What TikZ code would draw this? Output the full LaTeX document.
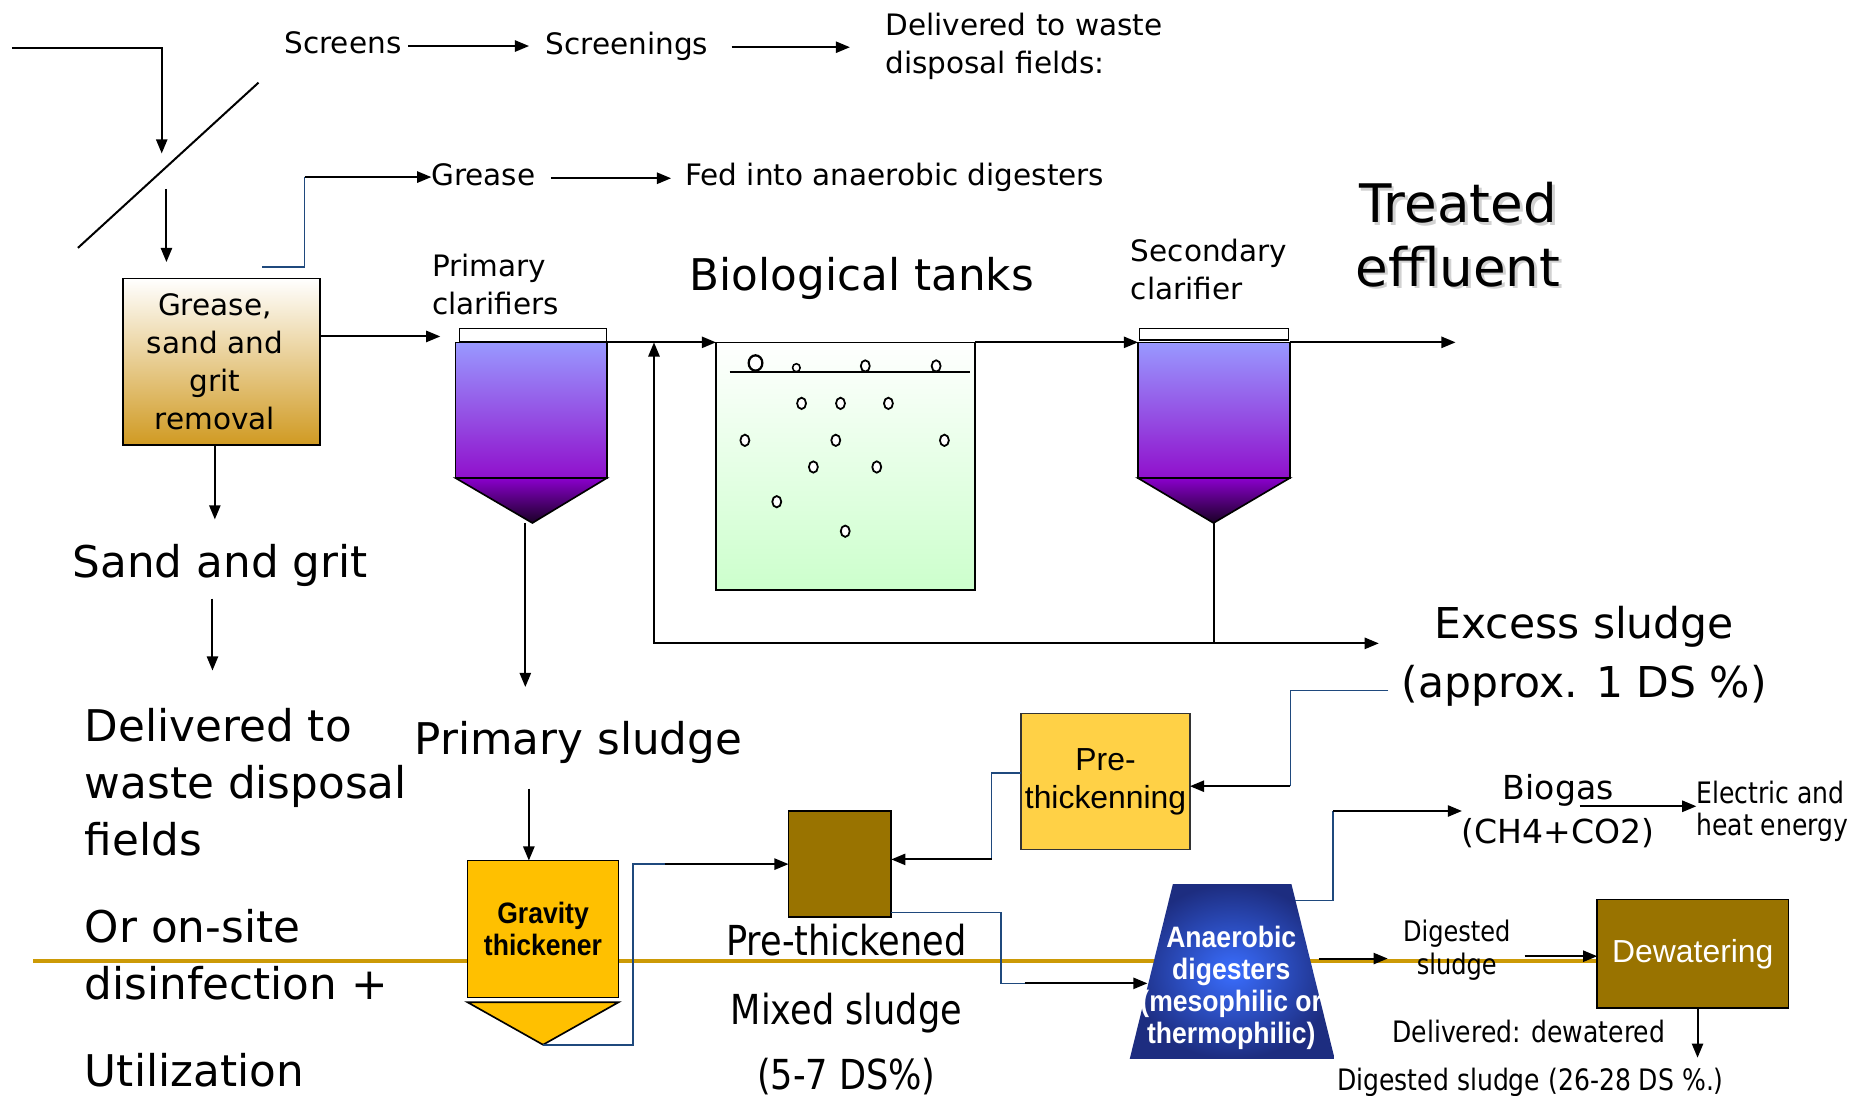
\documentclass[tikz,border=0pt]{standalone}
\usepackage{fontspec}
\usetikzlibrary{arrows.meta}
\newfontfamily\comicfont{DejaVu Sans}
\newfontfamily\comicnarrow{DejaVu Sans}[FakeStretch=0.85]
\newfontfamily\arialfont{Liberation Sans}
\newfontfamily\arialnarrow{Liberation Sans}[FakeStretch=0.9]
\definecolor{pipeblue}{HTML}{1F497D}
\definecolor{goldline}{HTML}{CC9A06}
\definecolor{gritgold}{HTML}{D09A22}
\definecolor{clarTop}{HTML}{9999FF}
\definecolor{clarBot}{HTML}{9010CC}
\definecolor{funnelTop}{HTML}{8A00CC}
\definecolor{funnelBot}{HTML}{1A0026}
\definecolor{bioGreen}{HTML}{CCFFCC}
\definecolor{amber}{HTML}{FFC000}
\definecolor{preyellow}{HTML}{FFD146}
\definecolor{sludgebrown}{HTML}{997300}
\definecolor{digInner}{HTML}{3A6EFF}
\definecolor{digOuter}{HTML}{1D2D80}
\begin{document}
\begin{tikzpicture}[x=1pt, y=-1pt,
  every node/.style={inner sep=0pt, outer sep=0pt},
  flowarrow/.style={line width=1.7pt, -{Triangle[length=12pt,width=9.5pt]}},
  plainline/.style={line width=1.7pt},
  pipeline/.style={draw=pipeblue, line width=1.3pt},
  tankbox/.style={draw, line width=1.4pt},
  smalltxt/.style={font=\comicfont\fontsize{25}{32}\selectfont},
  bigtxt/.style={font=\comicfont\fontsize{37}{48}\selectfont},
  flattxt/.style={text height=18pt, text depth=6pt},
  bigflattxt/.style={text height=28pt, text depth=9pt},
  slimtxt/.style={font=\comicnarrow\fontsize{25}{27}\selectfont},
  slimbigtxt/.style={font=\comicnarrow\fontsize{35}{40}\selectfont, text height=26pt, text depth=9pt},
  boldnarrow/.style={font=\arialnarrow\bfseries\fontsize{25}{27}\selectfont, align=center}]
\fill[white] (0,0) rectangle (1568,928);
\useasboundingbox (0,0) rectangle (1568,928);

% gold line behind everything
\draw[goldline, line width=3.5pt] (28,814) -- (1353,814);

% screens
\coordinate (inflow) at (10,41);
\coordinate (scrin) at (137,130);
\coordinate (scrout) at (141,160);
\coordinate (gritin) at (141,222);
\draw[plainline] (66,210) -- (219,70);
\draw[flowarrow] (inflow) -| (scrin);
\draw[flowarrow] (scrout) -- (gritin);

\node[smalltxt, flattxt] (screens) at (290.5,39) {Screens};
\node[smalltxt, flattxt] (screenings) at (531,40) {Screenings};
\node[smalltxt, align=left, anchor=west] (deliv) at (750,39.5) {Delivered to waste\\disposal fields:};
\draw[flowarrow, shorten <=6pt, shorten >=14pt] (screens.east) -- (screens.east -| screenings.west);
\draw[flowarrow, shorten <=20pt, shorten >=30pt] (screenings.east) -- (screenings.east -| deliv.west);

% grease, sand and grit removal
\node[tankbox, top color=white, bottom color=gritgold, minimum width=167pt, minimum height=141pt] (grit) at (187.5,306.5) {};
\node[smalltxt, align=center] (gritlabel) at (182,306.5) {Grease,\\sand and\\grit\\removal};

\coordinate (gsout) at (222,226);
\coordinate (gsjoin) at (258,150);
\node[smalltxt, flattxt] (grease) at (409.5,151) {Grease};
\node[smalltxt, flattxt] (fed) at (758,151) {Fed into anaerobic digesters};
\draw[pipeline] (gsout) -| (gsjoin);
\draw[flowarrow] (gsjoin) -- (gsjoin -| grease.west);
\draw[flowarrow, shorten <=13pt, shorten >=12pt] (grease.east) -- (grease.east -| fed.west);

% primary clarifier
\node[draw, line width=1pt, fill=white, minimum width=125pt, minimum height=11pt] (pctop) at (451.5,283.5) {};
\node[tankbox, top color=clarTop, bottom color=clarBot, minimum width=128pt, minimum height=115pt] (pcbody) at (450,347.5) {};
\shadedraw[top color=funnelTop, bottom color=funnelBot, line width=1.4pt] (pcbody.south west) -- (pcbody.south east) -- (451,443) coordinate (pctip) -- cycle;
\node[smalltxt, align=left, anchor=west] (pclabel) at (366,241) {Primary\\clarifiers};
\coordinate (pcin) at (373,285);
\draw[flowarrow] (grit.east |- pcin) -- (pcin);

% biological tank
\node[tankbox, top color=white, bottom color=bioGreen, minimum width=219.5pt, minimum height=210pt] (bio) at (716.25,395) {};
\draw[plainline] (618,315) -- (822,315);
\foreach \bx/\by in {733/310, 793/310, 679/341.7, 712/341.7, 752.6/341.7, 631/373, 708/373, 800/373, 689/395.6, 742.7/395.6, 658/425, 716/450}
  \draw[fill=white, line width=1.5pt] (\bx,\by) ellipse (3.8pt and 4.8pt);
\draw[fill=white, line width=1.9pt] (640,307.5) ellipse (5.8pt and 6.5pt);
\draw[fill=white, line width=1.3pt] (674.6,311.5) ellipse (3.2pt and 3.4pt);
\node[bigtxt, bigflattxt] (biolabel) at (730,237) {Biological tanks};
\draw[flowarrow] (pcbody.north east) -- (bio.north west);

% secondary clarifier
\node[draw, line width=1pt, fill=white, minimum width=126pt, minimum height=10pt] (sctop) at (1028.4,283) {};
\node[tankbox, top color=clarTop, bottom color=clarBot, minimum width=128.5pt, minimum height=115pt] (scbody) at (1028.25,347.5) {};
\shadedraw[top color=funnelTop, bottom color=funnelBot, line width=1.4pt] (scbody.south west) -- (scbody.south east) -- (1028,443) coordinate (sctip) -- cycle;
\node[smalltxt, align=left, anchor=west] (sclabel) at (958,228) {Secondary\\clarifier};
\draw[flowarrow] (bio.north east) -- (scbody.north west);
\coordinate (effout) at (1233,290);
\draw[flowarrow] (scbody.north east) -- (effout);

\node[font=\comicfont\fontsize{45}{54}\selectfont, align=center, text=black!18] (effshadow) at (1237.5,201) {Treated\\effluent};
\node[font=\comicfont\fontsize{45}{54}\selectfont, align=center] (effluent) at (1235,198.5) {Treated\\effluent};

% return and excess sludge
\coordinate (retjoin) at (1028,545);
\coordinate (retcorner) at (554,545);
\coordinate (exin) at (1168,545);
\draw[plainline] (sctip) -- (retjoin);
\draw[flowarrow] (retjoin) -- (exin);
\draw[flowarrow] (retjoin) -- (retcorner) -- (retcorner |- bio.north west);
\node[font=\comicfont\fontsize{36}{50}\selectfont, align=center] (excess) at (1342,556) {Excess sludge\\(approx. 1 DS \%)};

% primary sludge
\coordinate (psin) at (445,582);
\draw[flowarrow] (pctip -| psin) -- (psin);
\node[bigtxt, bigflattxt] (psludge) at (490,630) {Primary sludge};

% sand and grit
\coordinate (sandin) at (182,440);
\draw[flowarrow] (grit.south -| sandin) -- (sandin);
\node[bigtxt, bigflattxt] (sand) at (186.5,480) {Sand and grit};
\coordinate (sandout) at (180,507);
\coordinate (delin) at (180,568);
\draw[flowarrow] (sandout) -- (delin);
\node[bigtxt, align=left, anchor=west] (delfields) at (72,662.5) {Delivered to\\waste disposal\\fields};
\node[bigtxt, align=left, anchor=west] (onsite) at (72,808.5) {Or on-site\\disinfection +};
\node[bigtxt, bigflattxt, anchor=west] (utiliz) at (72,911) {Utilization};

% gravity thickener
\coordinate (psout) at (448,668);
\node[draw, line width=1.4pt, fill=amber, minimum width=128pt, minimum height=116pt, boldnarrow] (grav) at (460,787) {Gravity\\thickener};
\draw[flowarrow] (psout) -- (psout |- grav.north);
\draw[fill=amber, line width=1.4pt] (396,849) -- (524,849) -- (460,885) coordinate (gravtip) -- cycle;

% pre-thickened tank
\node[draw, line width=1.4pt, fill=sludgebrown, minimum width=87pt, minimum height=90pt] (prebox) at (711.5,732) {};
\coordinate (gjoin) at (536,732);
\coordinate (gblack) at (563,732);
\draw[pipeline] (gravtip) -| (gjoin) -- (gblack);
\draw[flowarrow] (gblack) -- (prebox.west);
\node[slimbigtxt] (prethickened) at (717,801) {Pre-thickened};
\node[slimbigtxt] (mixed) at (717,859) {Mixed sludge};
\node[slimbigtxt] (ds57) at (717,914) {(5-7 DS\%)};

% pre-thickenning
\node[draw=black!80, line width=1.4pt, fill=preyellow, minimum width=143pt, minimum height=115pt, font=\arialfont\fontsize{27}{32}\selectfont, align=center] (prethick) at (936.5,662) {Pre-\\thickenning};
\coordinate (ptjoin) at (840,728);
\draw[pipeline] (prethick.west |- 0,655) -| (ptjoin);
\draw[flowarrow] (ptjoin) -- (ptjoin -| prebox.east);
\coordinate (exout) at (1176,585);
\coordinate (exjoin) at (1093,666);
\draw[pipeline] (exout) -| (exjoin);
\draw[flowarrow] (exjoin) -- (exjoin -| prethick.east);

% anaerobic digesters
\shade[inner color=digInner, outer color=digOuter] (957,897) -- (993.5,749) -- (1094,749) -- (1130.6,897) -- cycle;
\coordinate (digin) at (972,833);
\coordinate (digout) at (1117,812);
\coordinate (gasout) at (1097,763);
\node[boldnarrow, text=white] (digester) at (1043,837) {Anaerobic\\digesters\\(mesophilic or\\thermophilic)};
\coordinate (mixjoin) at (848,833);
\coordinate (mixblack) at (868,833);
\draw[pipeline] ([yshift=4pt]prebox.south east) -| (mixjoin) -- (mixblack);
\draw[flowarrow] (mixblack) -- (digin);

% biogas
\coordinate (gasjoin) at (1129,687);
\draw[pipeline] (gasout) -| (gasjoin);
\node[font=\comicfont\fontsize{28}{37}\selectfont, align=center] (biogas) at (1320,687) {Biogas\\(CH4+CO2)};
\draw[flowarrow] (gasjoin) -- (gasjoin -| biogas.west);
\node[slimtxt, align=left, anchor=west] (elec) at (1437,687) {Electric and\\heat energy};
\coordinate (gasarr) at (1338,683);
\draw[flowarrow] (gasarr) -- (gasarr -| elec.west);

% digested sludge and dewatering
\node[font=\comicnarrow\fontsize{24}{28}\selectfont, align=center] (digsl) at (1234,805) {Digested\\sludge};
\node[draw, line width=1.4pt, fill=sludgebrown, minimum width=162pt, minimum height=92pt, text=white, font=\arialfont\fontsize{27}{32}\selectfont] (dewater) at (1434,808) {Dewatering};
\draw[flowarrow, shorten >=13pt] (digout) -- (digout -| digsl.west);
\draw[flowarrow, shorten <=12pt] ([yshift=-5pt]digsl.east) -- ([yshift=-5pt]digsl.east -| dewater.west);
\coordinate (dewout) at (1438,896);
\draw[flowarrow] (dewater.south -| dewout) -- (dewout);
\node[slimtxt, flattxt] (delivdw) at (1295,877) {Delivered: dewatered};
\node[slimtxt, flattxt] (digds) at (1296.5,918) {Digested sludge (26-28 DS \%.)};
\end{tikzpicture}
\end{document}
